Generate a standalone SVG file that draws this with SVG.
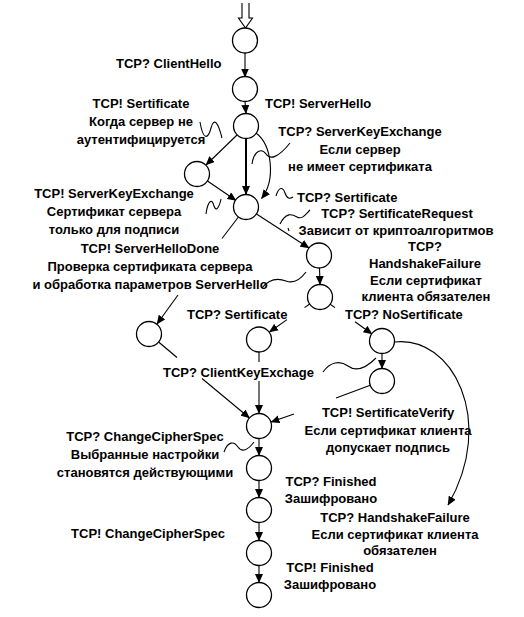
<svg xmlns="http://www.w3.org/2000/svg" width="524" height="617" viewBox="0 0 524 617">
<style>
.n{fill:#fff;stroke:#000;stroke-width:1.3}
.c{fill:none;stroke:#000;stroke-width:1.1}
.a{marker-end:url(#ah)}
.t{font-family:"Liberation Sans",Arial,sans-serif;font-size:13px;font-weight:bold;fill:#000}
.m{text-anchor:middle}
</style>
<defs>
<marker id="ah" markerUnits="userSpaceOnUse" markerWidth="9" markerHeight="8" viewBox="0 0 9 8" refX="8.5" refY="4" orient="auto">
<path d="M0,0 L9,4 L0,8 Z" fill="#000"/>
</marker>
</defs>
<rect width="524" height="617" fill="#fff"/>
<g id="connectors">
<path class="c" d="M242,3 V18 H238.5 L245.5,28 L252.5,18 H249 V3"/>
<path class="c a" d="M245,53 V77"/>
<path class="c a" d="M245,101.5 L246,113.5"/>
<path class="c a" d="M237,135 L206,165"/>
<path class="c a" d="M207.5,181 L236,200.5"/>
<path class="c a" d="M246,139 V194.5" style="stroke-width:2"/>
<path class="c a" d="M256,133 C272,145 276,180 261.5,198.5"/>
<path class="c a" d="M256.5,214 L309,248"/>
<path class="c" d="M238.4,217 L222,238.5"/>
<path class="c a" d="M178,295 L157,324"/>
<path class="c a" d="M319.5,268 L320,284.5"/>
<path class="c" d="M309.7,304 L304.5,307.6"/>
<path class="c a" d="M287,319.6 L269.5,332"/>
<path class="c" d="M330.2,304.2 L335,307.6"/>
<path class="c a" d="M355,321.8 L372,334"/>
<path class="c" d="M158.6,342 L177,357.5"/>
<path class="c a" d="M202,378.5 L249.5,418"/>
<path class="c" d="M259,352 V362"/>
<path class="c a" d="M259,381 V413.5"/>
<path class="c a" d="M382,353.5 V368.5"/>
<path class="c" d="M370.3,385.3 L336,398"/>
<path class="c a" d="M294,414 L271,422"/>
<path class="c a" d="M394.5,342 C452,335 497,420 448,505"/>
<path class="c a" d="M259,438.5 V455.5"/>
<path class="c a" d="M259,480.5 V497.5"/>
<path class="c a" d="M259,522.5 V540.5"/>
<path class="c a" d="M259,565.5 V582.5"/>
<path class="c" d="M200,122 C203,140 208,140 211,128 C214,117 218,122 222,138"/>
<path class="c" d="M252,164 C254,150 262,148 266,154 C270,160 278,158 290,143"/>
<path class="c" d="M206,214 C208,200 212,198 214,206 C216,212 219,208 221,199"/>
<path class="c" d="M276,196 C279,186 283,187 285,193 C287,199 290,199 293,197"/>
<path class="c" d="M280,224 C286,212 292,214 297,217 C302,220 306,214 310,210"/>
<path class="c" d="M288,228 L289,231"/>
<path class="c" d="M262,288 C270,278 278,278 286,281 C294,284 300,280 306,272"/>
<path class="c" d="M323,372 C330,362 340,360 348,366 C356,372 366,368 376,358"/>
<path class="c" d="M224,452 C228,441 234,441 238,447 C242,453 248,450 254,442"/>
</g>
<g id="n1"><circle class="n" cx="245" cy="40.5" r="12.5"/></g>
<g id="n2"><circle class="n" cx="245" cy="89" r="12.5"/></g>
<g id="n3"><circle class="n" cx="246" cy="126" r="12.5"/></g>
<g id="nA"><circle class="n" cx="197" cy="174" r="12.5"/></g>
<g id="n4"><circle class="n" cx="246" cy="207" r="12.5"/></g>
<g id="n5"><circle class="n" cx="319" cy="255.5" r="12.5"/></g>
<g id="n6"><circle class="n" cx="320" cy="297" r="12.5"/></g>
<g id="nL"><circle class="n" cx="149" cy="334" r="12.5"/></g>
<g id="nM"><circle class="n" cx="259" cy="339.5" r="12.5"/></g>
<g id="nN"><circle class="n" cx="382" cy="341" r="12.5"/></g>
<g id="nO"><circle class="n" cx="382" cy="381" r="12.5"/></g>
<g id="nP"><circle class="n" cx="259" cy="426" r="12.5"/></g>
<g id="nQ"><circle class="n" cx="259" cy="468" r="12.5"/></g>
<g id="nR"><circle class="n" cx="259" cy="510" r="12.5"/></g>
<g id="nS"><circle class="n" cx="259" cy="553" r="12.5"/></g>
<g id="nT"><circle class="n" cx="259" cy="595" r="12.5"/></g>
<g id="labels">
<text class="t" x="116" y="68">TCP? ClientHello</text>
<text class="t m" x="141" y="108">TCP! Sertificate</text>
<text class="t m" x="141" y="126">Когда сервер не</text>
<text class="t m" x="141" y="144">аутентифицируется</text>
<text class="t" x="265" y="108">TCP! ServerHello</text>
<text class="t m" x="360" y="136">TCP? ServerKeyExchange</text>
<text class="t m" x="360" y="154">Если сервер</text>
<text class="t m" x="360" y="171">не имеет сертификата</text>
<text class="t m" x="114" y="198">TCP! ServerKeyExchange</text>
<text class="t m" x="114" y="216">Сертификат сервера</text>
<text class="t m" x="114" y="234">только для подписи</text>
<text class="t" x="297" y="201.5">TCP? Sertificate</text>
<text class="t m" x="397" y="218">TCP? SertificateRequest</text>
<text class="t m" x="396" y="235">Зависит от криптоалгоритмов</text>
<text class="t m" x="425" y="251">TCP?</text>
<text class="t m" x="425" y="268">HandshakeFailure</text>
<text class="t m" x="426" y="285">Если сертификат</text>
<text class="t m" x="426" y="301">клиента обязателен</text>
<text class="t m" x="150" y="253">TCP! ServerHelloDone</text>
<text class="t m" x="150" y="270.5">Проверка сертификата сервера</text>
<text class="t m" x="150" y="288.5">и обработка параметров ServerHello</text>
<text class="t" x="187" y="318.5">TCP? Sertificate</text>
<text class="t" x="345" y="318.5">TCP? NoSertificate</text>
<text class="t" x="163" y="376.5">TCP? ClientKeyExchage</text>
<text class="t m" x="388" y="417">TCP! SertificateVerify</text>
<text class="t m" x="388" y="435">Если сертификат клиента</text>
<text class="t m" x="388" y="452">допускает подпись</text>
<text class="t m" x="145" y="441">TCP? ChangeCipherSpec</text>
<text class="t m" x="145" y="459">Выбранные настройки</text>
<text class="t m" x="145" y="477">становятся действующими</text>
<text class="t m" x="331" y="486">TCP? Finished</text>
<text class="t m" x="331" y="503">Зашифровано</text>
<text class="t m" x="395" y="522">TCP? HandshakeFailure</text>
<text class="t m" x="395" y="539">Если сертификат клиента</text>
<text class="t m" x="400" y="555">обязателен</text>
<text class="t m" x="148" y="538">TCP! ChangeCipherSpec</text>
<text class="t m" x="330" y="572">TCP! Finished</text>
<text class="t m" x="330" y="589">Зашифровано</text>
</g>
</svg>
